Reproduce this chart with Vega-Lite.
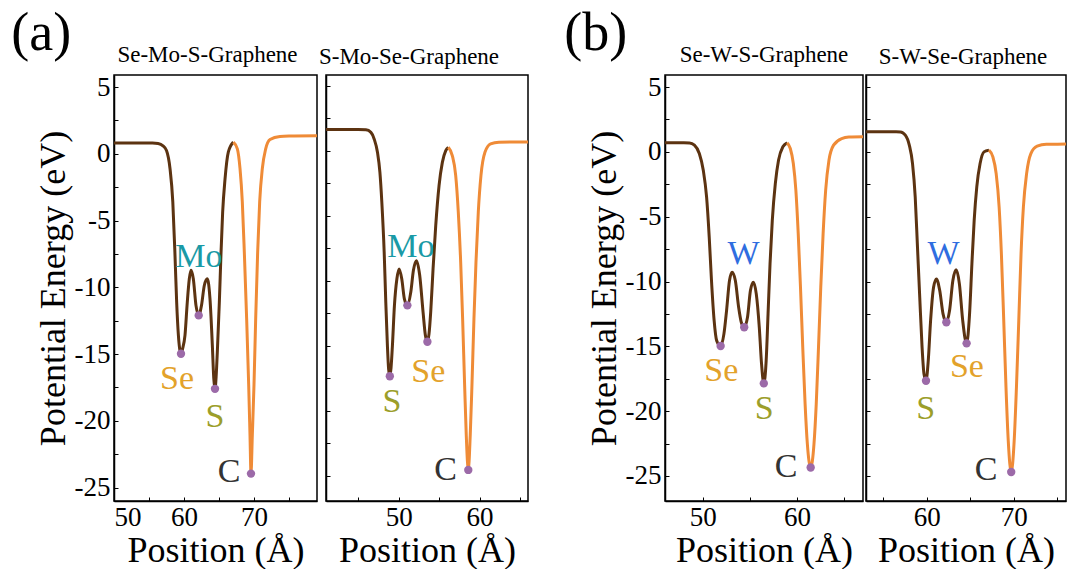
{
  "$schema": "https://vega.github.io/schema/vega-lite/v6.json",
  "padding": {"left": 11, "top": 7, "right": 5, "bottom": 0},
  "config": {
    "font": "Liberation Serif",
    "view": {"stroke": "#000000", "strokeWidth": 1.5},
    "axis": {"domainColor": "#000000", "domainWidth": 1.5, "tickColor": "#000000", "tickWidth": 1, "tickSize": -4, "labelFont": "Liberation Serif", "labelFontSize": 27, "labelColor": "#000000", "titleFont": "Liberation Serif", "titleFontSize": 36, "titleFontWeight": "normal", "titleColor": "#000000", "grid": false},
    "axisX": {"labelPadding": 7, "titlePadding": 3},
    "axisY": {"labelPadding": 8, "titlePadding": 2},
    "title": {"font": "Liberation Serif", "fontSize": 23, "fontWeight": "normal", "color": "#000000", "offset": 6},
    "concat": {"spacing": 0}
  },
  "spacing": 35,
  "hconcat": [
    {
      "title": {"text": "(a)", "font": "Liberation Serif", "fontSize": 54, "anchor": "start", "frame": "bounds", "offset": -18, "dx": -23},
      "spacing": 0,
      "hconcat": [
        {
          "width": 203, "height": 426,
          "title": {"text": "Se-Mo-S-Graphene", "dx": -8},
          "encoding": {
            "x": {"field": "x", "type": "quantitative", "scale": {"domain": [50, 79], "nice": false, "zero": false}, "axis": {"values": [50, 55, 60, 65, 70, 75], "labelExpr": "datum.value % 10 == 0 ? '' + datum.value : ''", "title": "Position (Å)"}},
            "y": {"field": "y", "type": "quantitative", "scale": {"domain": [-26, 5.9], "nice": false, "zero": false}, "axis": {"values": [-25, -22.5, -20, -17.5, -15, -12.5, -10, -7.5, -5, -2.5, 0, 2.5, 5], "labelExpr": "datum.value % 5 == 0 ? '' + datum.value : ''", "title": "Potential Energy (eV)"}}
          },
          "layer": [
            {
              "data": {"values": [
                {"x": 50, "y": 0.8, "part": "TMD"}, {"x": 53, "y": 0.8, "part": "TMD"}, {"x": 55.5, "y": 0.8, "part": "TMD"}, {"x": 56.3, "y": 0.77, "part": "TMD"}, {"x": 57, "y": 0.6, "part": "TMD"}, {"x": 57.5, "y": 0.25, "part": "TMD"}, {"x": 58, "y": -1.1, "part": "TMD"}, {"x": 58.4, "y": -3.6, "part": "TMD"}, {"x": 58.7, "y": -7.4, "part": "TMD"}, {"x": 58.95, "y": -11.1, "part": "TMD"}, {"x": 59.2, "y": -13.6, "part": "TMD"}, {"x": 59.38, "y": -14.6, "part": "TMD"}, {"x": 59.57, "y": -14.97, "part": "TMD"}, {"x": 59.8, "y": -14.6, "part": "TMD"}, {"x": 60.14, "y": -13.6, "part": "TMD"}, {"x": 60.47, "y": -11.1, "part": "TMD"}, {"x": 60.76, "y": -9.36, "part": "TMD"}, {"x": 61.0, "y": -8.73, "part": "TMD"}, {"x": 61.33, "y": -9.36, "part": "TMD"}, {"x": 61.71, "y": -11.35, "part": "TMD"}, {"x": 62.1, "y": -12.1, "part": "TMD"}, {"x": 62.5, "y": -11.35, "part": "TMD"}, {"x": 62.9, "y": -9.86, "part": "TMD"}, {"x": 63.33, "y": -9.36, "part": "TMD"}, {"x": 63.71, "y": -10.85, "part": "TMD"}, {"x": 64.05, "y": -14.35, "part": "TMD"}, {"x": 64.25, "y": -16.8, "part": "TMD"}, {"x": 64.43, "y": -17.6, "part": "TMD"}, {"x": 64.6, "y": -16.6, "part": "TMD"}, {"x": 64.76, "y": -14.85, "part": "TMD"}, {"x": 65.05, "y": -11.1, "part": "TMD"}, {"x": 65.29, "y": -7.4, "part": "TMD"}, {"x": 65.52, "y": -4.4, "part": "TMD"}, {"x": 65.86, "y": -1.9, "part": "TMD"}, {"x": 66.33, "y": 0.12, "part": "TMD"}, {"x": 67.05, "y": 0.87, "part": "TMD"},
                {"x": 67.05, "y": 0.87, "part": "Graphene"}, {"x": 67.62, "y": 0.37, "part": "Graphene"}, {"x": 68.0, "y": -1.1, "part": "Graphene"}, {"x": 68.33, "y": -3.6, "part": "Graphene"}, {"x": 68.62, "y": -7.4, "part": "Graphene"}, {"x": 68.95, "y": -12.35, "part": "Graphene"}, {"x": 69.24, "y": -17.3, "part": "Graphene"}, {"x": 69.43, "y": -21.1, "part": "Graphene"}, {"x": 69.57, "y": -23.95, "part": "Graphene"}, {"x": 69.76, "y": -21.1, "part": "Graphene"}, {"x": 70.0, "y": -17.3, "part": "Graphene"}, {"x": 70.24, "y": -12.35, "part": "Graphene"}, {"x": 70.52, "y": -7.4, "part": "Graphene"}, {"x": 70.81, "y": -3.6, "part": "Graphene"}, {"x": 71.19, "y": -1.1, "part": "Graphene"}, {"x": 71.67, "y": 0.37, "part": "Graphene"}, {"x": 72.29, "y": 1.07, "part": "Graphene"}, {"x": 73.71, "y": 1.3, "part": "Graphene"}, {"x": 75, "y": 1.33, "part": "Graphene"}, {"x": 79, "y": 1.35, "part": "Graphene"}
              ]},
              "mark": {"type": "line", "strokeWidth": 3, "interpolate": "monotone", "clip": true},
              "encoding": {"color": {"field": "part", "type": "nominal", "scale": {"domain": ["TMD", "Graphene", "Se", "S", "Mo", "W", "C"], "range": ["#5c3311", "#ef8b37", "#e3a22a", "#9c9e2a", "#1a9aa6", "#2f6de0", "#333333"]}, "legend": null}}
            },
            {
              "data": {"values": [{"x": 59.57, "y": -14.97}, {"x": 62.1, "y": -12.1}, {"x": 64.43, "y": -17.6}, {"x": 69.57, "y": -23.95}]},
              "mark": {"type": "circle", "size": 70, "color": "#9c6aa8", "opacity": 1}
            },
            {
              "data": {"values": [{"x": 62.14, "y": -7.73, "part": "Mo"}, {"x": 59.0, "y": -16.84, "part": "Se"}, {"x": 64.43, "y": -19.71, "part": "S"}, {"x": 66.43, "y": -23.83, "part": "C"}]},
              "mark": {"type": "text", "font": "Liberation Serif", "fontSize": 34, "baseline": "middle", "align": "center"},
              "encoding": {"text": {"field": "part"}, "color": {"field": "part", "type": "nominal", "scale": {"domain": ["TMD", "Graphene", "Se", "S", "Mo", "W", "C"], "range": ["#5c3311", "#ef8b37", "#e3a22a", "#9c9e2a", "#1a9aa6", "#2f6de0", "#333333"]}, "legend": null}}
            }
          ]
        },
        {
          "width": 202, "height": 426,
          "title": {"text": "S-Mo-Se-Graphene", "dx": -18},
          "encoding": {
            "x": {"field": "x", "type": "quantitative", "scale": {"domain": [41, 66], "nice": false, "zero": false}, "axis": {"values": [45, 50, 55, 60, 65], "labelExpr": "datum.value % 10 == 0 ? '' + datum.value : ''", "title": "Position (Å)"}},
            "y": {"field": "y", "type": "quantitative", "scale": {"domain": [-26.95, 5.82], "nice": false, "zero": false}, "axis": {"values": [-25, -22.5, -20, -17.5, -15, -12.5, -10, -7.5, -5, -2.5, 0, 2.5, 5], "labels": false, "title": null}}
          },
          "layer": [
            {
              "data": {"values": [
                {"x": 41, "y": 1.62, "part": "TMD"}, {"x": 43, "y": 1.62, "part": "TMD"}, {"x": 45, "y": 1.62, "part": "TMD"}, {"x": 45.94, "y": 1.6, "part": "TMD"}, {"x": 46.56, "y": 1.41, "part": "TMD"}, {"x": 46.96, "y": 0.9, "part": "TMD"}, {"x": 47.37, "y": -0.13, "part": "TMD"}, {"x": 47.67, "y": -1.66, "part": "TMD"}, {"x": 47.91, "y": -3.97, "part": "TMD"}, {"x": 48.2, "y": -7.8, "part": "TMD"}, {"x": 48.4, "y": -11.66, "part": "TMD"}, {"x": 48.6, "y": -15.0, "part": "TMD"}, {"x": 48.75, "y": -16.8, "part": "TMD"}, {"x": 48.9, "y": -17.35, "part": "TMD"}, {"x": 49.05, "y": -16.7, "part": "TMD"}, {"x": 49.22, "y": -15.0, "part": "TMD"}, {"x": 49.47, "y": -11.9, "part": "TMD"}, {"x": 49.77, "y": -9.87, "part": "TMD"}, {"x": 50.05, "y": -9.1, "part": "TMD"}, {"x": 50.38, "y": -9.87, "part": "TMD"}, {"x": 50.7, "y": -11.4, "part": "TMD"}, {"x": 51.07, "y": -11.9, "part": "TMD"}, {"x": 51.49, "y": -10.9, "part": "TMD"}, {"x": 51.82, "y": -9.2, "part": "TMD"}, {"x": 52.19, "y": -8.46, "part": "TMD"}, {"x": 52.6, "y": -9.6, "part": "TMD"}, {"x": 53.01, "y": -12.4, "part": "TMD"}, {"x": 53.3, "y": -14.2, "part": "TMD"}, {"x": 53.55, "y": -14.7, "part": "TMD"}, {"x": 53.75, "y": -14.1, "part": "TMD"}, {"x": 53.96, "y": -12.4, "part": "TMD"}, {"x": 54.25, "y": -9.1, "part": "TMD"}, {"x": 54.58, "y": -5.77, "part": "TMD"}, {"x": 54.99, "y": -2.7, "part": "TMD"}, {"x": 55.4, "y": -0.9, "part": "TMD"}, {"x": 55.82, "y": 0.0, "part": "TMD"}, {"x": 56.14, "y": 0.26, "part": "TMD"},
                {"x": 56.14, "y": 0.26, "part": "Graphene"}, {"x": 56.63, "y": -0.38, "part": "Graphene"}, {"x": 57.05, "y": -1.9, "part": "Graphene"}, {"x": 57.37, "y": -4.7, "part": "Graphene"}, {"x": 57.67, "y": -8.6, "part": "Graphene"}, {"x": 57.91, "y": -12.95, "part": "Graphene"}, {"x": 58.16, "y": -18.1, "part": "Graphene"}, {"x": 58.36, "y": -21.9, "part": "Graphene"}, {"x": 58.61, "y": -24.56, "part": "Graphene"}, {"x": 58.85, "y": -21.9, "part": "Graphene"}, {"x": 59.06, "y": -18.1, "part": "Graphene"}, {"x": 59.31, "y": -12.95, "part": "Graphene"}, {"x": 59.56, "y": -8.6, "part": "Graphene"}, {"x": 59.85, "y": -4.7, "part": "Graphene"}, {"x": 60.18, "y": -1.9, "part": "Graphene"}, {"x": 60.67, "y": -0.13, "part": "Graphene"}, {"x": 61.37, "y": 0.52, "part": "Graphene"}, {"x": 62.4, "y": 0.65, "part": "Graphene"}, {"x": 64, "y": 0.66, "part": "Graphene"}, {"x": 66, "y": 0.66, "part": "Graphene"}
              ]},
              "mark": {"type": "line", "strokeWidth": 3, "interpolate": "monotone", "clip": true},
              "encoding": {"color": {"field": "part", "type": "nominal", "scale": {"domain": ["TMD", "Graphene", "Se", "S", "Mo", "W", "C"], "range": ["#5c3311", "#ef8b37", "#e3a22a", "#9c9e2a", "#1a9aa6", "#2f6de0", "#333333"]}, "legend": null}}
            },
            {
              "data": {"values": [{"x": 48.9, "y": -17.35}, {"x": 51.07, "y": -11.9}, {"x": 53.55, "y": -14.7}, {"x": 58.61, "y": -24.56}]},
              "mark": {"type": "circle", "size": 70, "color": "#9c6aa8", "opacity": 1}
            },
            {
              "data": {"values": [{"x": 51.49, "y": -7.43, "part": "Mo"}, {"x": 49.15, "y": -19.35, "part": "S"}, {"x": 53.67, "y": -17.05, "part": "Se"}, {"x": 55.81, "y": -24.6, "part": "C"}]},
              "mark": {"type": "text", "font": "Liberation Serif", "fontSize": 34, "baseline": "middle", "align": "center"},
              "encoding": {"text": {"field": "part"}, "color": {"field": "part", "type": "nominal", "scale": {"domain": ["TMD", "Graphene", "Se", "S", "Mo", "W", "C"], "range": ["#5c3311", "#ef8b37", "#e3a22a", "#9c9e2a", "#1a9aa6", "#2f6de0", "#333333"]}, "legend": null}}
            }
          ]
        }
      ]
    },
    {
      "title": {"text": "(b)", "font": "Liberation Serif", "fontSize": 54, "anchor": "start", "frame": "bounds", "offset": -18, "dx": -21},
      "spacing": 0,
      "hconcat": [
        {
          "width": 198, "height": 426,
          "title": "Se-W-S-Graphene",
          "encoding": {
            "x": {"field": "x", "type": "quantitative", "scale": {"domain": [46, 67], "nice": false, "zero": false}, "axis": {"values": [50, 55, 60, 65], "labelExpr": "datum.value % 10 == 0 ? '' + datum.value : ''", "title": "Position (Å)"}},
            "y": {"field": "y", "type": "quantitative", "scale": {"domain": [-26.93, 5.93], "nice": false, "zero": false}, "axis": {"values": [-25, -22.5, -20, -17.5, -15, -12.5, -10, -7.5, -5, -2.5, 0, 2.5, 5], "labelExpr": "datum.value % 5 == 0 ? '' + datum.value : ''", "title": "Potential Energy (eV)"}}
          },
          "layer": [
            {
              "data": {"values": [
                {"x": 46, "y": 0.7, "part": "TMD"}, {"x": 48, "y": 0.7, "part": "TMD"}, {"x": 48.6, "y": 0.69, "part": "TMD"}, {"x": 49.12, "y": 0.52, "part": "TMD"}, {"x": 49.64, "y": -0.13, "part": "TMD"}, {"x": 50.06, "y": -1.42, "part": "TMD"}, {"x": 50.41, "y": -3.48, "part": "TMD"}, {"x": 50.69, "y": -6.57, "part": "TMD"}, {"x": 50.93, "y": -9.92, "part": "TMD"}, {"x": 51.21, "y": -13.0, "part": "TMD"}, {"x": 51.48, "y": -14.56, "part": "TMD"}, {"x": 51.9, "y": -14.97, "part": "TMD"}, {"x": 52.25, "y": -14.04, "part": "TMD"}, {"x": 52.53, "y": -12.24, "part": "TMD"}, {"x": 52.84, "y": -9.92, "part": "TMD"}, {"x": 53.12, "y": -9.28, "part": "TMD"}, {"x": 53.46, "y": -9.92, "part": "TMD"}, {"x": 53.81, "y": -11.98, "part": "TMD"}, {"x": 54.09, "y": -13.14, "part": "TMD"}, {"x": 54.4, "y": -13.53, "part": "TMD"}, {"x": 54.75, "y": -12.76, "part": "TMD"}, {"x": 55.06, "y": -10.7, "part": "TMD"}, {"x": 55.37, "y": -10.05, "part": "TMD"}, {"x": 55.68, "y": -10.95, "part": "TMD"}, {"x": 56.0, "y": -13.53, "part": "TMD"}, {"x": 56.24, "y": -16.36, "part": "TMD"}, {"x": 56.48, "y": -17.86, "part": "TMD"}, {"x": 56.73, "y": -16.1, "part": "TMD"}, {"x": 56.93, "y": -12.5, "part": "TMD"}, {"x": 57.14, "y": -8.63, "part": "TMD"}, {"x": 57.38, "y": -5.28, "part": "TMD"}, {"x": 57.7, "y": -2.45, "part": "TMD"}, {"x": 58.04, "y": -0.64, "part": "TMD"}, {"x": 58.5, "y": 0.39, "part": "TMD"}, {"x": 58.95, "y": 0.7, "part": "TMD"},
                {"x": 58.95, "y": 0.7, "part": "Graphene"}, {"x": 59.29, "y": 0.26, "part": "Graphene"}, {"x": 59.61, "y": -0.9, "part": "Graphene"}, {"x": 59.88, "y": -2.96, "part": "Graphene"}, {"x": 60.13, "y": -6.31, "part": "Graphene"}, {"x": 60.37, "y": -10.44, "part": "Graphene"}, {"x": 60.61, "y": -15.08, "part": "Graphene"}, {"x": 60.86, "y": -19.46, "part": "Graphene"}, {"x": 61.1, "y": -22.55, "part": "Graphene"}, {"x": 61.45, "y": -24.35, "part": "Graphene"}, {"x": 61.8, "y": -22.55, "part": "Graphene"}, {"x": 62.04, "y": -19.46, "part": "Graphene"}, {"x": 62.28, "y": -15.08, "part": "Graphene"}, {"x": 62.52, "y": -10.44, "part": "Graphene"}, {"x": 62.77, "y": -6.31, "part": "Graphene"}, {"x": 63.04, "y": -2.96, "part": "Graphene"}, {"x": 63.39, "y": -0.64, "part": "Graphene"}, {"x": 63.88, "y": 0.52, "part": "Graphene"}, {"x": 64.74, "y": 1.03, "part": "Graphene"}, {"x": 65.5, "y": 1.14, "part": "Graphene"}, {"x": 67, "y": 1.16, "part": "Graphene"}
              ]},
              "mark": {"type": "line", "strokeWidth": 3, "interpolate": "monotone", "clip": true},
              "encoding": {"color": {"field": "part", "type": "nominal", "scale": {"domain": ["TMD", "Graphene", "Se", "S", "Mo", "W", "C"], "range": ["#5c3311", "#ef8b37", "#e3a22a", "#9c9e2a", "#1a9aa6", "#2f6de0", "#333333"]}, "legend": null}}
            },
            {
              "data": {"values": [{"x": 51.9, "y": -14.97}, {"x": 54.4, "y": -13.53}, {"x": 56.48, "y": -17.86}, {"x": 61.45, "y": -24.35}]},
              "mark": {"type": "circle", "size": 70, "color": "#9c6aa8", "opacity": 1}
            },
            {
              "data": {"values": [{"x": 54.33, "y": -7.86, "part": "W"}, {"x": 51.97, "y": -16.88, "part": "Se"}, {"x": 56.52, "y": -19.84, "part": "S"}, {"x": 58.84, "y": -24.3, "part": "C"}]},
              "mark": {"type": "text", "font": "Liberation Serif", "fontSize": 34, "baseline": "middle", "align": "center"},
              "encoding": {"text": {"field": "part"}, "color": {"field": "part", "type": "nominal", "scale": {"domain": ["TMD", "Graphene", "Se", "S", "Mo", "W", "C"], "range": ["#5c3311", "#ef8b37", "#e3a22a", "#9c9e2a", "#1a9aa6", "#2f6de0", "#333333"]}, "legend": null}}
            }
          ]
        },
        {
          "width": 200, "height": 426,
          "title": {"text": "S-W-Se-Graphene", "dx": -3},
          "encoding": {
            "x": {"field": "x", "type": "quantitative", "scale": {"domain": [53, 76], "nice": false, "zero": false}, "axis": {"values": [55, 60, 65, 70, 75], "labelExpr": "datum.value % 10 == 0 ? '' + datum.value : ''", "title": "Position (Å)"}},
            "y": {"field": "y", "type": "quantitative", "scale": {"domain": [-26.93, 5.93], "nice": false, "zero": false}, "axis": {"values": [-25, -22.5, -20, -17.5, -15, -12.5, -10, -7.5, -5, -2.5, 0, 2.5, 5], "labels": false, "title": null}}
          },
          "layer": [
            {
              "data": {"values": [
                {"x": 53, "y": 1.55, "part": "TMD"}, {"x": 55, "y": 1.55, "part": "TMD"}, {"x": 56.96, "y": 1.54, "part": "TMD"}, {"x": 57.52, "y": 1.29, "part": "TMD"}, {"x": 57.98, "y": 0.52, "part": "TMD"}, {"x": 58.35, "y": -0.9, "part": "TMD"}, {"x": 58.66, "y": -3.48, "part": "TMD"}, {"x": 58.92, "y": -7.34, "part": "TMD"}, {"x": 59.18, "y": -11.21, "part": "TMD"}, {"x": 59.45, "y": -15.08, "part": "TMD"}, {"x": 59.67, "y": -17.14, "part": "TMD"}, {"x": 59.9, "y": -17.65, "part": "TMD"}, {"x": 60.16, "y": -16.1, "part": "TMD"}, {"x": 60.43, "y": -13.0, "part": "TMD"}, {"x": 60.77, "y": -10.44, "part": "TMD"}, {"x": 61.1, "y": -9.8, "part": "TMD"}, {"x": 61.48, "y": -10.7, "part": "TMD"}, {"x": 61.86, "y": -12.5, "part": "TMD"}, {"x": 62.24, "y": -13.14, "part": "TMD"}, {"x": 62.61, "y": -12.24, "part": "TMD"}, {"x": 62.99, "y": -9.92, "part": "TMD"}, {"x": 63.37, "y": -9.1, "part": "TMD"}, {"x": 63.74, "y": -10.18, "part": "TMD"}, {"x": 64.12, "y": -13.0, "part": "TMD"}, {"x": 64.57, "y": -14.77, "part": "TMD"}, {"x": 64.91, "y": -12.5, "part": "TMD"}, {"x": 65.18, "y": -8.63, "part": "TMD"}, {"x": 65.44, "y": -5.28, "part": "TMD"}, {"x": 65.74, "y": -2.7, "part": "TMD"}, {"x": 66.12, "y": -0.9, "part": "TMD"}, {"x": 66.57, "y": 0.0, "part": "TMD"}, {"x": 67.14, "y": 0.13, "part": "TMD"},
                {"x": 67.14, "y": 0.13, "part": "Graphene"}, {"x": 67.59, "y": -0.39, "part": "Graphene"}, {"x": 67.97, "y": -1.68, "part": "Graphene"}, {"x": 68.31, "y": -4.25, "part": "Graphene"}, {"x": 68.57, "y": -7.86, "part": "Graphene"}, {"x": 68.84, "y": -13.0, "part": "Graphene"}, {"x": 69.1, "y": -18.17, "part": "Graphene"}, {"x": 69.36, "y": -22.29, "part": "Graphene"}, {"x": 69.7, "y": -24.69, "part": "Graphene"}, {"x": 70.04, "y": -22.29, "part": "Graphene"}, {"x": 70.3, "y": -18.17, "part": "Graphene"}, {"x": 70.57, "y": -13.0, "part": "Graphene"}, {"x": 70.83, "y": -7.86, "part": "Graphene"}, {"x": 71.1, "y": -4.25, "part": "Graphene"}, {"x": 71.47, "y": -1.68, "part": "Graphene"}, {"x": 71.96, "y": -0.13, "part": "Graphene"}, {"x": 72.68, "y": 0.44, "part": "Graphene"}, {"x": 73.74, "y": 0.59, "part": "Graphene"}, {"x": 76, "y": 0.6, "part": "Graphene"}
              ]},
              "mark": {"type": "line", "strokeWidth": 3, "interpolate": "monotone", "clip": true},
              "encoding": {"color": {"field": "part", "type": "nominal", "scale": {"domain": ["TMD", "Graphene", "Se", "S", "Mo", "W", "C"], "range": ["#5c3311", "#ef8b37", "#e3a22a", "#9c9e2a", "#1a9aa6", "#2f6de0", "#333333"]}, "legend": null}}
            },
            {
              "data": {"values": [{"x": 59.9, "y": -17.65}, {"x": 62.24, "y": -13.14}, {"x": 64.57, "y": -14.77}, {"x": 69.7, "y": -24.69}]},
              "mark": {"type": "circle", "size": 70, "color": "#9c6aa8", "opacity": 1}
            },
            {
              "data": {"values": [{"x": 61.93, "y": -7.86, "part": "W"}, {"x": 59.86, "y": -19.84, "part": "S"}, {"x": 64.61, "y": -16.62, "part": "Se"}, {"x": 66.8, "y": -24.55, "part": "C"}]},
              "mark": {"type": "text", "font": "Liberation Serif", "fontSize": 34, "baseline": "middle", "align": "center"},
              "encoding": {"text": {"field": "part"}, "color": {"field": "part", "type": "nominal", "scale": {"domain": ["TMD", "Graphene", "Se", "S", "Mo", "W", "C"], "range": ["#5c3311", "#ef8b37", "#e3a22a", "#9c9e2a", "#1a9aa6", "#2f6de0", "#333333"]}, "legend": null}}
            }
          ]
        }
      ]
    }
  ]
}
